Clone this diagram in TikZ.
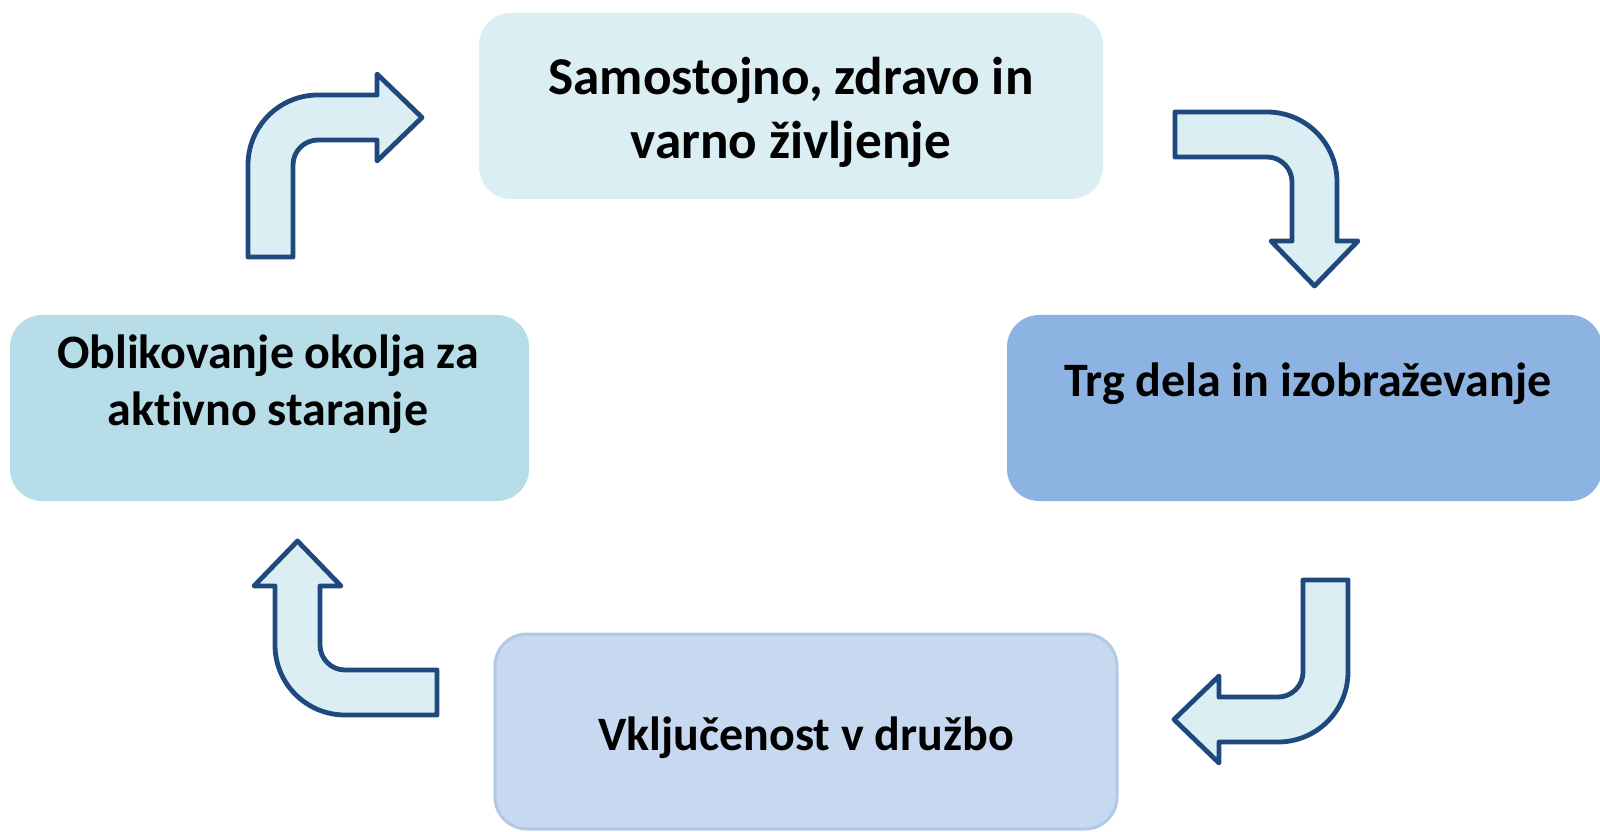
\documentclass[tikz,border=0pt]{standalone}
\usepackage{fontspec}
\setmainfont[Ligatures=NoCommon]{Carlito}
\definecolor{arrowfill}{HTML}{DBEEF4}
\definecolor{arrowline}{HTML}{1F497D}
\definecolor{topfill}{HTML}{DBEEF4}
\definecolor{leftfill}{HTML}{B7DEE8}
\definecolor{rightfill}{HTML}{8DB3E2}
\definecolor{botfill}{HTML}{C6D9F1}
\definecolor{botline}{HTML}{B3C8E4}
\tikzset{
  box/.style={rectangle, rounded corners=16pt, inner sep=0pt, outer sep=0pt, draw=none},
  lbl/.style={font=\bfseries\fontsize{24pt}{29pt}\selectfont, align=center, inner sep=0pt, text=black},
  pics/larrow/.style={code={
    \draw[fill=arrowfill, draw=arrowline, line width=2.4pt, line join=round]
      (-70,-92) -- (-70,0) arc[start angle=180, end angle=90, radius=70]
      -- (59,70) -- (59,91) -- (104,47.5) -- (59,4) -- (59,25) -- (0,25)
      arc[start angle=90, end angle=180, radius=25] -- (-25,-92) -- cycle;
  }}
}
\begin{document}
\begin{tikzpicture}[x=0.5pt,y=0.5pt]
\useasboundingbox (0,0) rectangle (1600,831);
% boxes
\node[box, fill=topfill, minimum width=312pt, minimum height=93pt] (btop) at (791,725) {};
\node[box, fill=rightfill, minimum width=297.5pt, minimum height=93pt] (bright) at (1304.5,423) {};
\node[box, fill=leftfill, minimum width=259.5pt, minimum height=93pt] (bleft) at (269.5,423) {};
\node[box, fill=botfill, draw=botline, line width=1.5pt, minimum width=311pt, minimum height=97.5pt] (bbot) at (806,99.5) {};
% texts
\node[lbl, font=\bfseries\fontsize{26.6pt}{32pt}\selectfont] (ttop) at (791,719) {Samostojno, zdravo in\\varno življenje};
\node[lbl] (tright) at (1308,447) {Trg dela in izobraževanje};
\node[lbl, font=\bfseries\fontsize{24pt}{28.5pt}\selectfont] (tleft) at (268,447) {Oblikovanje okolja za\\aktivno staranje};
\node[lbl] (tbot) at (806,93) {Vključenost v družbo};
% arrows
\pic at (318,666) {larrow};
\pic[rotate=-90] at (1267,649) {larrow};
\pic[rotate=180] at (1278,159) {larrow};
\pic[rotate=90] at (345,186) {larrow};
\end{tikzpicture}
\end{document}
